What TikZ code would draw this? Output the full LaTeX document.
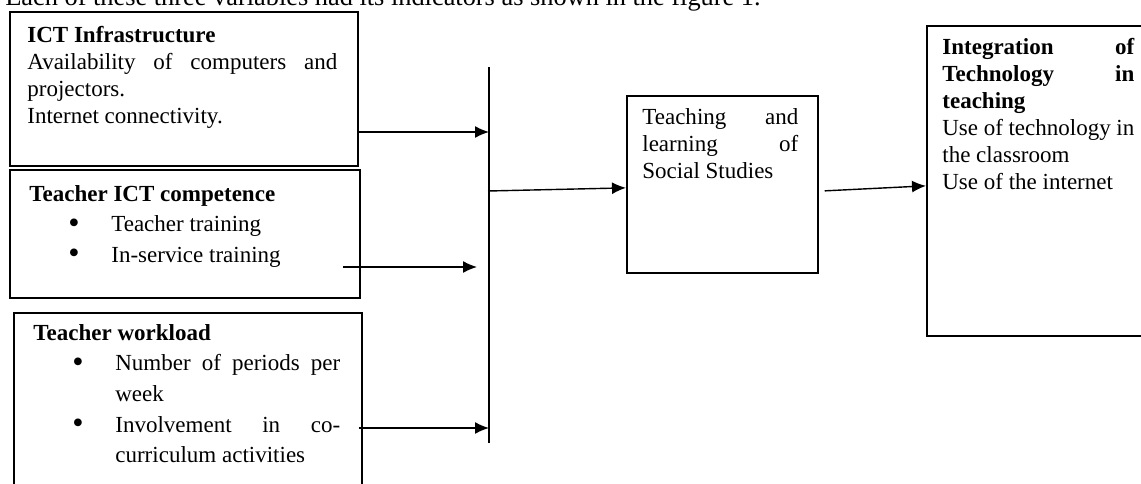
\documentclass[tikz,border=0pt]{standalone}
\usepackage{fontspec}
\setmainfont{Liberation Serif}
\usetikzlibrary{arrows.meta}

\newcommand{\bitem}{\par\hangindent=1.64cm\hangafter=1\noindent\hspace*{0.78cm}\makebox[0.86cm][l]{\smash{\raisebox{-0.12ex}{\scalebox{1.4}{\textbullet}}}}}

\tikzset{
  frame/.style={draw,line width=1pt,inner sep=0pt,anchor=north west},
  txt/.style={anchor=north west,inner sep=0pt,align=justify,font=\fontsize{13.1pt}{15.4pt}\selectfont},
  listtxt/.style={txt,font=\fontsize{13.1pt}{17.4pt}\selectfont},
  bus/.style={line width=0.8pt},
  arr/.style={line width=0.8pt,arrows={-Latex[length=0.28cm,width=0.24cm]}}
}

\begin{document}
\begin{tikzpicture}[x=0.02cm,y=-0.02cm]
      \useasboundingbox (0,0) rectangle (1141,483);
      \node[anchor=base west,inner sep=0pt,font=\fontsize{15pt}{18pt}\selectfont] (caption) at (5,6)
        {Each of these three variables had its indicators as shown in the figure 1.};

      % frames
      \node[frame,minimum width=6.96cm,minimum height=3.08cm] (infra) at (9,11) {};
      \node[frame,minimum width=7.0cm,minimum height=2.56cm] (compet) at (9,169) {};
      \node[frame,minimum width=6.96cm,minimum height=3.8cm] (workload) at (13,312) {};
      \node[frame,minimum width=3.82cm,minimum height=3.54cm] (teach) at (626,95) {};
      \node[frame,minimum width=4.6cm,minimum height=6.2cm] (integ) at (926,25) {};

      % texts
      \node[txt,text width=6.2cm] (infra text) at (27,26)
        {\textbf{ICT Infrastructure}\par
         Availability of computers and\linebreak projectors.\par
         Internet connectivity.\par};
      \node[listtxt,text width=6.2cm] (compet text) at (29,185)
        {\textbf{Teacher ICT competence}
         \bitem Teacher training
         \bitem In-service training\par};
      \node[listtxt,text width=6.14cm] (workload text) at (33,324)
        {\textbf{Teacher workload}
         \bitem Number of periods per\linebreak week
         \bitem Involvement in co-\linebreak curriculum activities\par};
      \node[txt,text width=3.12cm] (teach text) at (642,108)
        {Teaching and\linebreak learning of\linebreak Social Studies\par};
      \node[txt,text width=3.84cm] (integ text) at (942,38)
        {\textbf{Integration of\linebreak Technology in\linebreak teaching}\par
         Use of technology in\linebreak the classroom\par
         Use of the internet\par};

      % bus line and arrows
      \coordinate (bus top) at (489,67);
      \coordinate (bus bottom) at (489,443);
      \draw[bus] (bus top) -- (bus bottom);
      \coordinate (in1) at (489,132);
      \coordinate (in2 start) at (343,267);
      \coordinate (in2) at (477,267);
      \coordinate (in3) at (489,428);
      \coordinate (out1) at (488,191);
      \draw[arr] (infra.east |- in1) -- (in1);%1-bus
      \draw[arr] (in2 start) -- (in2);%2-bus
      \draw[arr] ([xshift=-0.08cm]workload.east |- in3) -- (in3);%3-bus
      \draw[arr] (out1) -- ([yshift=-0.07cm]teach.west);%bus-teach
      \draw[arr] ([shift={(0.12cm,-0.13cm)}]teach.east) -- ([yshift=-0.1cm]integ.west);%teach-integ
\end{tikzpicture}
\end{document}
